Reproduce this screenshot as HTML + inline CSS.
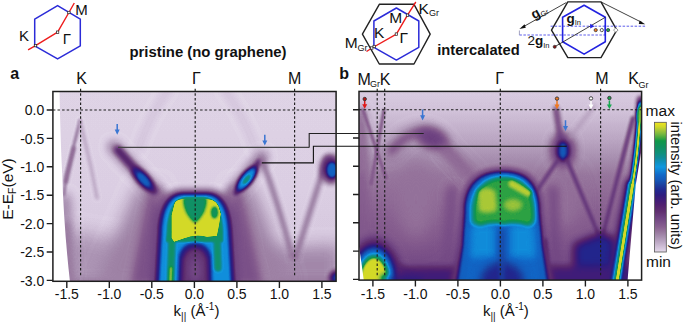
<!DOCTYPE html>
<html><head><meta charset="utf-8">
<style>
html,body{margin:0;padding:0;background:#fff;width:685px;height:323px;overflow:hidden}
svg{display:block;font-family:"Liberation Sans",sans-serif}
</style></head><body>
<svg width="685" height="323" viewBox="0 0 685 323">
<defs>
<linearGradient id="cbar" x1="0" y1="0" x2="0" y2="1"><stop offset="0.000" stop-color="#f0e420"/><stop offset="0.035" stop-color="#d0d828"/><stop offset="0.060" stop-color="#a8c838"/><stop offset="0.090" stop-color="#78b840"/><stop offset="0.120" stop-color="#40a840"/><stop offset="0.143" stop-color="#109848"/><stop offset="0.190" stop-color="#109060"/><stop offset="0.235" stop-color="#109078"/><stop offset="0.274" stop-color="#108c98"/><stop offset="0.310" stop-color="#1090c0"/><stop offset="0.344" stop-color="#1098e0"/><stop offset="0.375" stop-color="#1080d4"/><stop offset="0.405" stop-color="#1068c8"/><stop offset="0.444" stop-color="#1458b8"/><stop offset="0.483" stop-color="#1a40a0"/><stop offset="0.521" stop-color="#202890"/><stop offset="0.560" stop-color="#2c1c80"/><stop offset="0.600" stop-color="#401c78"/><stop offset="0.637" stop-color="#502070"/><stop offset="0.691" stop-color="#603070"/><stop offset="0.730" stop-color="#6c4080"/><stop offset="0.768" stop-color="#7a5088"/><stop offset="0.807" stop-color="#886090"/><stop offset="0.846" stop-color="#98789e"/><stop offset="0.884" stop-color="#a890b0"/><stop offset="0.923" stop-color="#bca8c4"/><stop offset="0.961" stop-color="#d0c0d8"/><stop offset="0.985" stop-color="#dccfe4"/><stop offset="1.000" stop-color="#e4dae8"/></linearGradient>
<filter id="cmap" x="0" y="0" width="1" height="1" color-interpolation-filters="sRGB">
<feComponentTransfer><feFuncR type="table" tableValues="0.894 0.878 0.861 0.846 0.830 0.815 0.799 0.782 0.766 0.750 0.734 0.718 0.702 0.686 0.670 0.655 0.642 0.629 0.616 0.603 0.590 0.578 0.565 0.552 0.540 0.528 0.517 0.506 0.495 0.484 0.472 0.461 0.450 0.438 0.427 0.417 0.407 0.398 0.388 0.379 0.370 0.360 0.351 0.342 0.333 0.324 0.315 0.302 0.288 0.275 0.262 0.248 0.232 0.217 0.202 0.186 0.171 0.162 0.152 0.143 0.133 0.125 0.120 0.115 0.110 0.105 0.100 0.096 0.091 0.086 0.081 0.077 0.074 0.071 0.068 0.065 0.063 0.063 0.063 0.063 0.063 0.063 0.063 0.063 0.063 0.063 0.063 0.063 0.063 0.063 0.063 0.063 0.063 0.063 0.063 0.063 0.063 0.063 0.063 0.063 0.063 0.063 0.063 0.063 0.063 0.063 0.063 0.063 0.063 0.073 0.138 0.202 0.265 0.322 0.380 0.438 0.492 0.541 0.591 0.640 0.689 0.739 0.788 0.828 0.856 0.885 0.913 0.941"/><feFuncG type="table" tableValues="0.855 0.832 0.810 0.791 0.771 0.752 0.733 0.713 0.694 0.674 0.655 0.636 0.617 0.598 0.579 0.559 0.540 0.520 0.501 0.481 0.462 0.443 0.424 0.405 0.386 0.370 0.358 0.345 0.332 0.320 0.307 0.294 0.281 0.268 0.255 0.242 0.229 0.217 0.204 0.191 0.181 0.172 0.163 0.154 0.145 0.136 0.126 0.122 0.119 0.116 0.112 0.110 0.110 0.110 0.110 0.110 0.111 0.120 0.130 0.139 0.149 0.160 0.180 0.199 0.219 0.238 0.257 0.276 0.295 0.314 0.333 0.350 0.363 0.375 0.388 0.401 0.419 0.443 0.468 0.493 0.517 0.541 0.565 0.589 0.591 0.584 0.577 0.569 0.563 0.560 0.557 0.553 0.550 0.552 0.555 0.558 0.561 0.564 0.565 0.565 0.565 0.565 0.565 0.565 0.571 0.576 0.581 0.586 0.592 0.600 0.621 0.642 0.663 0.679 0.696 0.712 0.729 0.745 0.762 0.778 0.797 0.816 0.836 0.852 0.862 0.873 0.884 0.894"/><feFuncB type="table" tableValues="0.910 0.902 0.893 0.877 0.862 0.846 0.830 0.814 0.798 0.781 0.765 0.749 0.733 0.718 0.702 0.686 0.672 0.657 0.642 0.628 0.615 0.604 0.593 0.581 0.570 0.562 0.555 0.549 0.543 0.536 0.530 0.523 0.517 0.510 0.504 0.493 0.480 0.468 0.455 0.442 0.439 0.439 0.439 0.439 0.439 0.439 0.439 0.445 0.452 0.459 0.465 0.472 0.478 0.484 0.490 0.497 0.503 0.516 0.529 0.541 0.554 0.567 0.580 0.593 0.606 0.619 0.634 0.653 0.672 0.691 0.710 0.726 0.739 0.752 0.764 0.777 0.790 0.802 0.814 0.827 0.839 0.851 0.863 0.875 0.858 0.829 0.800 0.771 0.740 0.706 0.672 0.637 0.603 0.576 0.551 0.525 0.500 0.475 0.457 0.440 0.424 0.407 0.391 0.374 0.359 0.343 0.327 0.311 0.296 0.281 0.270 0.259 0.251 0.251 0.251 0.251 0.247 0.239 0.231 0.223 0.207 0.188 0.168 0.154 0.147 0.140 0.133 0.125"/></feComponentTransfer>
</filter>
<filter id="b0_6" filterUnits="userSpaceOnUse" x="0" y="0" width="685" height="323" color-interpolation-filters="sRGB"><feGaussianBlur stdDeviation="0.6"/></filter>
<filter id="b0_7" filterUnits="userSpaceOnUse" x="0" y="0" width="685" height="323" color-interpolation-filters="sRGB"><feGaussianBlur stdDeviation="0.7"/></filter>
<filter id="b1" filterUnits="userSpaceOnUse" x="0" y="0" width="685" height="323" color-interpolation-filters="sRGB"><feGaussianBlur stdDeviation="1"/></filter>
<filter id="b1_1" filterUnits="userSpaceOnUse" x="0" y="0" width="685" height="323" color-interpolation-filters="sRGB"><feGaussianBlur stdDeviation="1.1"/></filter>
<filter id="b1_2" filterUnits="userSpaceOnUse" x="0" y="0" width="685" height="323" color-interpolation-filters="sRGB"><feGaussianBlur stdDeviation="1.2"/></filter>
<filter id="b1_3" filterUnits="userSpaceOnUse" x="0" y="0" width="685" height="323" color-interpolation-filters="sRGB"><feGaussianBlur stdDeviation="1.3"/></filter>
<filter id="b1_4" filterUnits="userSpaceOnUse" x="0" y="0" width="685" height="323" color-interpolation-filters="sRGB"><feGaussianBlur stdDeviation="1.4"/></filter>
<filter id="b1_5" filterUnits="userSpaceOnUse" x="0" y="0" width="685" height="323" color-interpolation-filters="sRGB"><feGaussianBlur stdDeviation="1.5"/></filter>
<filter id="b1_6" filterUnits="userSpaceOnUse" x="0" y="0" width="685" height="323" color-interpolation-filters="sRGB"><feGaussianBlur stdDeviation="1.6"/></filter>
<filter id="b1_7" filterUnits="userSpaceOnUse" x="0" y="0" width="685" height="323" color-interpolation-filters="sRGB"><feGaussianBlur stdDeviation="1.7"/></filter>
<filter id="b1_8" filterUnits="userSpaceOnUse" x="0" y="0" width="685" height="323" color-interpolation-filters="sRGB"><feGaussianBlur stdDeviation="1.8"/></filter>
<filter id="b2" filterUnits="userSpaceOnUse" x="0" y="0" width="685" height="323" color-interpolation-filters="sRGB"><feGaussianBlur stdDeviation="2"/></filter>
<filter id="b2_2" filterUnits="userSpaceOnUse" x="0" y="0" width="685" height="323" color-interpolation-filters="sRGB"><feGaussianBlur stdDeviation="2.2"/></filter>
<filter id="b2_5" filterUnits="userSpaceOnUse" x="0" y="0" width="685" height="323" color-interpolation-filters="sRGB"><feGaussianBlur stdDeviation="2.5"/></filter>
<filter id="b3" filterUnits="userSpaceOnUse" x="0" y="0" width="685" height="323" color-interpolation-filters="sRGB"><feGaussianBlur stdDeviation="3"/></filter>
<filter id="b3_5" filterUnits="userSpaceOnUse" x="0" y="0" width="685" height="323" color-interpolation-filters="sRGB"><feGaussianBlur stdDeviation="3.5"/></filter>
<filter id="b4" filterUnits="userSpaceOnUse" x="0" y="0" width="685" height="323" color-interpolation-filters="sRGB"><feGaussianBlur stdDeviation="4"/></filter>
<filter id="b4_5" filterUnits="userSpaceOnUse" x="0" y="0" width="685" height="323" color-interpolation-filters="sRGB"><feGaussianBlur stdDeviation="4.5"/></filter>
<filter id="b5" filterUnits="userSpaceOnUse" x="0" y="0" width="685" height="323" color-interpolation-filters="sRGB"><feGaussianBlur stdDeviation="5"/></filter>
<filter id="b8" filterUnits="userSpaceOnUse" x="0" y="0" width="685" height="323" color-interpolation-filters="sRGB"><feGaussianBlur stdDeviation="8"/></filter>
<filter id="b9" filterUnits="userSpaceOnUse" x="0" y="0" width="685" height="323" color-interpolation-filters="sRGB"><feGaussianBlur stdDeviation="9"/></filter>
<filter id="b10" filterUnits="userSpaceOnUse" x="0" y="0" width="685" height="323" color-interpolation-filters="sRGB"><feGaussianBlur stdDeviation="10"/></filter>
<clipPath id="ca"><rect x="52.9" y="91.5" width="283.2" height="189.8"/></clipPath><clipPath id="cb"><rect x="359" y="91.4" width="282.6" height="188.7"/></clipPath>
</defs>

<!-- PANEL A HEATMAP -->
<g id="pa" clip-path="url(#ca)"><g filter="url(#cmap)"><linearGradient id="pag" x1="0" y1="0" x2="0" y2="1"><stop offset="0" stop-color="#020202"/><stop offset="0.5" stop-color="#040404"/><stop offset="1" stop-color="#090909"/></linearGradient>
<rect x="40" y="80" width="320" height="220" fill="url(#pag)"/>
<path d="M60 230 L145 245 L145 290 L60 290Z" fill="#1c1c1c" filter="url(#b9)" opacity="1"/>
<path d="M240 250 L340 245 L340 290 L240 290Z" fill="#212121" filter="url(#b8)" opacity="1"/>
<path d="M62 285 L335 285" fill="none" stroke="#2b2b2b" stroke-width="12" stroke-linecap="round" filter="url(#b4)" opacity="1"/>
<path d="M64 200 L70 290" fill="none" stroke="#212121" stroke-width="14" stroke-linecap="round" filter="url(#b5)" opacity="1"/>
<path d="M66 225 L71 290" fill="none" stroke="#292929" stroke-width="6" stroke-linecap="round" filter="url(#b3)" opacity="1"/>
<path d="M138 186 L160 186 L160 285 L95 285Z" fill="#242424" filter="url(#b8)" opacity="1"/>
<path d="M232 186 L252 186 L292 285 L232 285Z" fill="#242424" filter="url(#b8)" opacity="1"/>
<path d="M150 190 L162 190 L160 285 L131 285Z" fill="#3b3b3b" filter="url(#b4)" opacity="1"/>
<path d="M228 190 L240 190 L262 285 L232 285Z" fill="#3b3b3b" filter="url(#b4)" opacity="1"/>
<path d="M168 90 Q150 115 138 150" fill="none" stroke="#090909" stroke-width="7" stroke-linecap="round" filter="url(#b3)" opacity="1"/>
<path d="M225 90 Q243 115 256 150" fill="none" stroke="#090909" stroke-width="7" stroke-linecap="round" filter="url(#b3)" opacity="1"/>
<path d="M80 121 L66 176 L64 195" fill="none" stroke="#262626" stroke-width="3.2" stroke-linecap="round" filter="url(#b1_3)" opacity="1"/>
<path d="M74 148 L66 182" fill="none" stroke="#303030" stroke-width="3.5" stroke-linecap="round" filter="url(#b1_6)" opacity="1"/>
<path d="M80 121 L91 167 L97 198" fill="none" stroke="#141414" stroke-width="3.5" stroke-linecap="round" filter="url(#b1_8)" opacity="1"/>
<path d="M114 147 L160 197" fill="none" stroke="#2e2e2e" stroke-width="12" stroke-linecap="round" filter="url(#b4)" opacity="1"/>
<path d="M118 150 L154 191" fill="none" stroke="#5c5c5c" stroke-width="7" stroke-linecap="round" filter="url(#b2)" opacity="1"/>
<ellipse cx="143" cy="179" rx="15" ry="6" fill="#787878" filter="url(#b2)" transform="rotate(48 143 179)"/>
<ellipse cx="143.5" cy="179.5" rx="9" ry="3.6" fill="#939393" filter="url(#b1_5)" transform="rotate(48 143.5 179.5)"/>
<path d="M262 157 L230 197" fill="none" stroke="#2e2e2e" stroke-width="12" stroke-linecap="round" filter="url(#b4)" opacity="1"/>
<path d="M259 162 L236 193" fill="none" stroke="#575757" stroke-width="5" stroke-linecap="round" filter="url(#b1_5)" opacity="1"/>
<ellipse cx="246.6" cy="179" rx="16" ry="6.5" fill="#7a7a7a" filter="url(#b1_5)" transform="rotate(-52 246.6 179)"/>
<ellipse cx="246.6" cy="179" rx="12" ry="4.2" fill="#a3a3a3" filter="url(#b1)" transform="rotate(-52 246.6 179)"/>
<ellipse cx="246.6" cy="179.5" rx="6" ry="2.2" fill="#c4c4c4" filter="url(#b1)" transform="rotate(-52 246.6 179.5)"/>
<path d="M262 160 Q279 205 292 256" fill="none" stroke="#2b2b2b" stroke-width="5" stroke-linecap="round" filter="url(#b2)" opacity="1"/>
<path d="M327 158 Q312 205 296 256" fill="none" stroke="#2b2b2b" stroke-width="5" stroke-linecap="round" filter="url(#b2)" opacity="1"/>
<path d="M292 257 L296 257" fill="none" stroke="#2b2b2b" stroke-width="5" stroke-linecap="round" filter="url(#b2_5)" opacity="1"/>
<ellipse cx="331" cy="169" rx="10" ry="14" fill="#5c5c5c" filter="url(#b3)" transform="rotate(0 331 169)"/>
<ellipse cx="332" cy="170" rx="5.5" ry="8" fill="#949494" filter="url(#b1_8)" transform="rotate(0 332 170)"/>
<ellipse cx="337" cy="278" rx="7" ry="7" fill="#858585" filter="url(#b2_5)" transform="rotate(0 337 278)"/>
<path d="M150 285 L154 232 C155 205 163 190 183 189.5 L207 189.5 C227 190 235 205 236 232 L240 285Z" fill="#454545" filter="url(#b3)" opacity="1"/>
<path d="M155 285 L158 232 C159 209 166 192.5 184 192.5 L206 192.5 C224 192.5 231 209 232 232 L235 285Z" fill="#707070" filter="url(#b1_3)" opacity="1"/>
<path d="M159 285 L162 232 C163 211 169 195 185 195 L205 195 C221 195 227 211 228 232 L231 285Z" fill="#a4a4a4" filter="url(#b1_1)" opacity="1"/>
<path d="M166 242 L167 230 C168 213 173 197.5 186 197.5 L204 197.5 C217 197.5 222 213 223 230 L223 242Z" fill="#cccccc" filter="url(#b1_1)" opacity="1"/>
<path d="M178 285 L179 256 Q182 243 195 243 Q208 243 211 256 L212 285Z" fill="#757575" filter="url(#b1_6)" opacity="1"/>
<path d="M182 285 L183 259 Q187 248 195 248 Q203 248 207 259 L208 285Z" fill="#4c4c4c" filter="url(#b2_2)" opacity="1"/>
<ellipse cx="195" cy="270" rx="6" ry="12" fill="#404040" filter="url(#b3)" transform="rotate(0 195 270)"/>
<path d="M172 238 L170.5 284" fill="none" stroke="#cccccc" stroke-width="7" stroke-linecap="round" filter="url(#b1_6)" opacity="1"/>
<path d="M217 236 L218 268" fill="none" stroke="#c9c9c9" stroke-width="7" stroke-linecap="round" filter="url(#b1_8)" opacity="1"/>
<path d="M171 268 L170.5 284" fill="none" stroke="#ededed" stroke-width="3.5" stroke-linecap="round" filter="url(#b1)" opacity="1"/>
<path d="M174 205 C175 200 179 199 184 199 L191 199 L192 204 L199 204 L200 199 L207 199 C213 199 217 202 219 207 L221 214 L219 226 L217 236 L207 237 Q195 234 184 238.5 L174 242 L171.5 238 L171.5 215 Z" fill="#f7f7f7" filter="url(#b1_0)" opacity="1"/>
<path d="M183.5 198 L206.5 198 Q207 213 195 223 Q183 213 183.5 198Z" fill="#cccccc" filter="url(#b1_4)" opacity="1"/>
<ellipse cx="214.5" cy="212.5" rx="3.5" ry="6" fill="#d1d1d1" filter="url(#b1_1)" transform="rotate(0 214.5 212.5)"/></g><path d="M50 90 L59.5 90 Q60.5 140 62 170 Q64 230 70 282 L50 282Z" fill="#fff" filter="url(#b0_6)"/></g>

<!-- PANEL B HEATMAP -->
<g id="pb" clip-path="url(#cb)"><g filter="url(#cmap)"><linearGradient id="pbg" x1="0" y1="0" x2="0" y2="1"><stop offset="0" stop-color="#040404"/><stop offset="0.12" stop-color="#090909"/><stop offset="0.25" stop-color="#141414"/><stop offset="0.35" stop-color="#1f1f1f"/><stop offset="0.42" stop-color="#282828"/><stop offset="0.6" stop-color="#323232"/><stop offset="0.8" stop-color="#3d3d3d"/><stop offset="1" stop-color="#4a4a4a"/></linearGradient>
<rect x="340" y="85" width="320" height="215" fill="url(#pbg)"/>
<ellipse cx="416" cy="200" rx="20" ry="42" fill="#2a2a2a" filter="url(#b10)" transform="rotate(0 416 200)"/>
<ellipse cx="564" cy="200" rx="16" ry="30" fill="#2b2b2b" filter="url(#b9)" transform="rotate(0 564 200)"/>
<path d="M361 112 L362 250" fill="none" stroke="#363636" stroke-width="8" stroke-linecap="round" filter="url(#b4)" opacity="1"/>
<path d="M363 110 L386 178" fill="none" stroke="#363636" stroke-width="3.2" stroke-linecap="round" filter="url(#b1_3)" opacity="1"/>
<path d="M384 110 L371 184" fill="none" stroke="#363636" stroke-width="3.2" stroke-linecap="round" filter="url(#b1_3)" opacity="1"/>
<path d="M361 125 L364 170" fill="none" stroke="#2b2b2b" stroke-width="6" stroke-linecap="round" filter="url(#b3)" opacity="1"/>
<path d="M390 153 Q410 128 428 132 Q440 136 448 151 L474 177" fill="none" stroke="#2b2b2b" stroke-width="14" stroke-linecap="round" filter="url(#b5)" opacity="1"/>
<path d="M392 150 Q410 130 427 133 Q438 137 446 150 L470 176" fill="none" stroke="#363636" stroke-width="6" stroke-linecap="round" filter="url(#b2_5)" opacity="1"/>
<ellipse cx="432" cy="139" rx="16" ry="10" fill="#454545" filter="url(#b4_5)" transform="rotate(20 432 139)"/>
<path d="M444 150 L470 178" fill="none" stroke="#2b2b2b" stroke-width="10" stroke-linecap="round" filter="url(#b4)" opacity="1"/>
<path d="M388 256 Q400 272 418 279" fill="none" stroke="#575757" stroke-width="5" stroke-linecap="round" filter="url(#b3)" opacity="1"/>
<path d="M452 190 L446 280" fill="none" stroke="#404040" stroke-width="8" stroke-linecap="round" filter="url(#b4)" opacity="1"/>
<path d="M553 190 L556 280" fill="none" stroke="#424242" stroke-width="8" stroke-linecap="round" filter="url(#b4)" opacity="1"/>
<path d="M556 109 L561 142" fill="none" stroke="#474747" stroke-width="5" stroke-linecap="round" filter="url(#b2)" opacity="1"/>
<ellipse cx="563" cy="150" rx="12" ry="17" fill="#4a4a4a" filter="url(#b4_5)" transform="rotate(0 563 150)"/>
<ellipse cx="563" cy="151" rx="5.5" ry="9.5" fill="#8f8f8f" filter="url(#b2_2)" transform="rotate(0 563 151)"/>
<path d="M558 160 L536 192" fill="none" stroke="#4c4c4c" stroke-width="3.5" stroke-linecap="round" filter="url(#b1_6)" opacity="1"/>
<path d="M567 160 L600 238" fill="none" stroke="#4f4f4f" stroke-width="3.5" stroke-linecap="round" filter="url(#b1_5)" opacity="1"/>
<path d="M633 118 L602 238" fill="none" stroke="#4f4f4f" stroke-width="3.5" stroke-linecap="round" filter="url(#b1_5)" opacity="1"/>
<path d="M594 106 L570 138" fill="none" stroke="#1c1c1c" stroke-width="3" stroke-linecap="round" filter="url(#b2)" opacity="1"/>
<path d="M574 244 L598 234 L606 234 L616 240 L614 290 L574 290Z" fill="#787878" filter="url(#b4)" opacity="1"/>
<path d="M576 272 L614 272 L614 290 L576 290Z" fill="#8a8a8a" filter="url(#b3)" opacity="1"/>
<path d="M544 240 L548 290" fill="none" stroke="#8c8c8c" stroke-width="3" stroke-linecap="round" filter="url(#b2)" opacity="1"/>
<path d="M380 268 L640 266 L640 290 L380 290Z" fill="#666666" filter="url(#b3_5)" opacity="1"/>
<path d="M641 100 Q638 155 632 185" fill="none" stroke="#666666" stroke-width="7" stroke-linecap="round" filter="url(#b2)" opacity="1"/>
<path d="M632 185 L615 285" fill="none" stroke="#6b6b6b" stroke-width="14" stroke-linecap="round" filter="url(#b3)" opacity="1"/>
<path d="M640.5 104 Q637.5 155 632 185" fill="none" stroke="#9e9e9e" stroke-width="5" stroke-linecap="round" filter="url(#b1_3)" opacity="1"/>
<path d="M632 185 L615.5 285" fill="none" stroke="#9e9e9e" stroke-width="9" stroke-linecap="round" filter="url(#b1_5)" opacity="1"/>
<path d="M640.5 106 Q637.5 155 632 185" fill="none" stroke="#cccccc" stroke-width="3.5" stroke-linecap="round" filter="url(#b1)" opacity="1"/>
<path d="M632 185 L616 285" fill="none" stroke="#cccccc" stroke-width="6" stroke-linecap="round" filter="url(#b1_2)" opacity="1"/>
<path d="M640.5 108 Q638 155 632.5 185" fill="none" stroke="#f7f7f7" stroke-width="2.2" stroke-linecap="round" filter="url(#b0_6)" opacity="1"/>
<path d="M632.5 185 L616.5 285" fill="none" stroke="#f7f7f7" stroke-width="3.2" stroke-linecap="round" filter="url(#b0_7)" opacity="1"/>
<ellipse cx="639.5" cy="115" rx="2.5" ry="8" fill="#e6e6e6" filter="url(#b1_5)" transform="rotate(0 639.5 115)"/>
<ellipse cx="374" cy="280" rx="27" ry="42" fill="#5c5c5c" filter="url(#b4)" transform="rotate(0 374 280)"/>
<ellipse cx="374" cy="280" rx="22" ry="35" fill="#858585" filter="url(#b2_5)" transform="rotate(0 374 280)"/>
<ellipse cx="374" cy="281" rx="18.5" ry="30" fill="#a8a8a8" filter="url(#b2)" transform="rotate(0 374 281)"/>
<ellipse cx="374" cy="282" rx="16" ry="27" fill="#cccccc" filter="url(#b1_5)" transform="rotate(0 374 282)"/>
<ellipse cx="374" cy="283" rx="13.5" ry="25" fill="#f7f7f7" filter="url(#b1_3)" transform="rotate(0 374 283)"/>
<path d="M385 279 L420 281" fill="none" stroke="#737373" stroke-width="5" stroke-linecap="round" filter="url(#b3)" opacity="1"/>
<path d="M450 285 L458 245 L461 212 C461 182 476 168 503 168 C530 168 543 182 543 212 L546 245 L554 285Z" fill="#4c4c4c" filter="url(#b2_5)" opacity="1"/>
<path d="M455 285 L462 245 L464 212 C464 185 478 171 503 171 C528 171 540 185 540 212 L543 245 L550 285Z" fill="#757575" filter="url(#b1_2)" opacity="1"/>
<path d="M458 285 L464 245 L466 212 C466 186.5 479.5 173 503 173 C526.5 173 538 186.5 538 212 L541 245 L547 285Z" fill="#939393" filter="url(#b1_2)" opacity="1"/>
<path d="M466 285 L469 228 L497 228 L497 285Z" fill="#969696" filter="url(#b3)" opacity="1"/>
<path d="M508 285 L508 228 L536 228 L540 285Z" fill="#969696" filter="url(#b3)" opacity="1"/>
<path d="M470 258 L471 224 L495 224 L495 258Z" fill="#a3a3a3" filter="url(#b3_5)" opacity="1"/>
<path d="M510 258 L510 224 L534 224 L536 258Z" fill="#a3a3a3" filter="url(#b3_5)" opacity="1"/>
<ellipse cx="502" cy="282" rx="22" ry="20" fill="#787878" filter="url(#b5)" transform="rotate(0 502 282)"/>
<path d="M502 232 L502 285" fill="none" stroke="#858585" stroke-width="5" stroke-linecap="round" filter="url(#b2_5)" opacity="1"/>
<path d="M470 212 C470 189 483 175.5 504 175.5 C525 175.5 536 189 536 212 L536 220 Q535 227 528 227 Q516 223 504 226 Q493 223 481 227 Q470 227 470 220Z" fill="#b8b8b8" filter="url(#b1_4)" opacity="1"/>
<path d="M474 212 C474 191 486 178.5 504 178.5 C522 178.5 533 191 533 212 L533 218 Q532.5 224 526 224 Q515 220 504 223 Q493 220 482 224 Q474 224 474 218Z" fill="#dedede" filter="url(#b1_7)" opacity="1"/>
<path d="M478 191 Q486 185 495 191 L497 210 Q488 215 479 211Z" fill="#f0f0f0" filter="url(#b2)" opacity="1"/>
<path d="M512 184 L528 193" fill="none" stroke="#f2f2f2" stroke-width="7" stroke-linecap="round" filter="url(#b1_8)" opacity="1"/>
<ellipse cx="513" cy="205" rx="9" ry="6" fill="#ededed" filter="url(#b2)" transform="rotate(0 513 205)"/></g><path d="M358 240 Q361.5 262 364 282 L358 282Z" fill="#fff" filter="url(#b0_6)"/><path d="M642 92 L641.5 150 L635.7 185 L628 275 L627.5 282 L645 282 L645 92Z" fill="#fff" filter="url(#b0_6)"/></g>

<!-- frames -->
<g fill="none" stroke="#1e1e1e" stroke-width="1.5">
<rect x="52.9" y="91.5" width="283.2" height="189.8"/>
<rect x="359" y="91.4" width="282.6" height="188.7"/>
</g>
<!-- ticks -->
<g stroke="#1e1e1e" stroke-width="1.4">
<path d="M46.7 110H52.9M46.7 138.4H52.9M46.7 166.8H52.9M46.7 195.2H52.9M46.7 223.6H52.9M46.7 252H52.9M46.7 280.4H52.9"/>
<path d="M66.8 281.3V288M109.3 281.3V288M151.8 281.3V288M194.4 281.3V288M236.9 281.3V288M279.4 281.3V288M321.9 281.3V288"/>
<path d="M353 109.7H359M353 138H359M353 166.2H359M353 194.5H359M353 222.8H359M353 251.1H359M353 279.4H359"/>
<path d="M372.9 280.1V286.6M415.4 280.1V286.6M457.9 280.1V286.6M500.4 280.1V286.6M542.9 280.1V286.6M585.4 280.1V286.6M627.9 280.1V286.6"/>
</g>
<!-- dashed lines -->
<g stroke="#1e1e1e" stroke-width="1.15" stroke-dasharray="2.5 2.1" fill="none">
<path d="M52.9 110H336.1"/>
<path d="M80.6 88.7V277M195.2 88.7V277M294.6 88.7V277"/>
<path d="M359 109.7H641.6"/>
<path d="M377.2 88.7V277M384.7 88.7V277M500.3 88.7V277M600.6 88.7V277"/>
</g>

<!-- tick labels -->
<g font-size="14" fill="#111" text-anchor="end">
<text x="44.3" y="115.1">0.0</text>
<text x="44.3" y="143.5">-0.5</text>
<text x="44.3" y="171.9">-1.0</text>
<text x="44.3" y="200.3">-1.5</text>
<text x="44.3" y="228.7">-2.0</text>
<text x="44.3" y="257.1">-2.5</text>
<text x="44.3" y="285.5">-3.0</text>
</g>
<g font-size="14" fill="#111" text-anchor="middle">
<text x="66.8" y="298.8">-1.5</text>
<text x="109.3" y="298.8">-1.0</text>
<text x="151.8" y="298.8">-0.5</text>
<text x="194.4" y="298.8">0.0</text>
<text x="236.9" y="298.8">0.5</text>
<text x="279.4" y="298.8">1.0</text>
<text x="321.9" y="298.8">1.5</text>
<text x="372.9" y="298.8">-1.5</text>
<text x="415.4" y="298.8">-1.0</text>
<text x="457.9" y="298.8">-0.5</text>
<text x="500.4" y="298.8">0.0</text>
<text x="542.9" y="298.8">0.5</text>
<text x="585.4" y="298.8">1.0</text>
<text x="627.9" y="298.8">1.5</text>
</g>
<!-- axis titles -->
<g font-size="15" fill="#111">
<text x="173.6" y="315.7">k<tspan font-size="10" dy="3.8">||</tspan><tspan dy="-3.8"> (Å</tspan><tspan font-size="10" dy="-5.8">-1</tspan><tspan dy="5.8">)</tspan></text>
<text x="483" y="315.7">k<tspan font-size="10" dy="3.8">||</tspan><tspan dy="-3.8"> (Å</tspan><tspan font-size="10" dy="-5.8">-1</tspan><tspan dy="5.8">)</tspan></text>
</g>
<text font-size="15.5" fill="#111" transform="translate(13.2,219.8) rotate(-90)">E-E<tspan font-size="10.5" dy="3.2">F</tspan><tspan dy="-3.2">(eV)</tspan></text>

<!-- symmetry labels -->
<g font-size="16" fill="#111" text-anchor="middle">
<text x="81.7" y="83.9">K</text>
<text x="196.3" y="83.6">Γ</text>
<text x="294.6" y="84.2">M</text>
<text x="364.2" y="84.6">M</text>
<text x="385.2" y="84.6">K</text>
<text x="499.6" y="83.6">Γ</text>
<text x="601.9" y="83.6">M</text>
<text x="633.7" y="83.6">K</text>
</g>
<g font-size="9" fill="#111">
<text x="370" y="87.3">Gr</text>
<text x="638.6" y="87.5">Gr</text>
</g>

<!-- panel letters, headings -->
<g font-weight="bold" fill="#111">
<text x="10.3" y="79.1" font-size="16">a</text>
<text x="339.3" y="79.2" font-size="16">b</text>
<text x="129.4" y="56.5" font-size="14.9">pristine (no graphene)</text>
<text x="437.2" y="54.9" font-size="14.7">intercalated</text>
</g>


<!-- connecting lines -->
<g fill="none" stroke-width="1.1">
<path d="M118 147.4H309.2" stroke="#444"/><path d="M309.2 147.4V133.5H423.7" stroke="#222"/>
<path d="M261.8 162.9H313.4V146.3H566.7" stroke="#111"/>
</g>
<!-- arrows in panels -->
<defs>
<g id="arr"><path d="M-0.75 -5.6H0.75V0H2.5L0 5.2L-2.5 0H-0.75Z"/></g>
<g id="arr2"><path d="M-0.75 -4H0.75V0H2.5L0 4.6L-2.5 0H-0.75Z"/></g>
<filter id="cmap" x="0" y="0" width="1" height="1" color-interpolation-filters="sRGB">
<feComponentTransfer><feFuncR type="table" tableValues="0.894 0.878 0.861 0.846 0.830 0.815 0.799 0.782 0.766 0.750 0.734 0.718 0.702 0.686 0.670 0.655 0.642 0.629 0.616 0.603 0.590 0.578 0.565 0.552 0.540 0.528 0.517 0.506 0.495 0.484 0.472 0.461 0.450 0.438 0.427 0.417 0.407 0.398 0.388 0.379 0.370 0.360 0.351 0.342 0.333 0.324 0.315 0.302 0.288 0.275 0.262 0.248 0.232 0.217 0.202 0.186 0.171 0.162 0.152 0.143 0.133 0.125 0.120 0.115 0.110 0.105 0.100 0.096 0.091 0.086 0.081 0.077 0.074 0.071 0.068 0.065 0.063 0.063 0.063 0.063 0.063 0.063 0.063 0.063 0.063 0.063 0.063 0.063 0.063 0.063 0.063 0.063 0.063 0.063 0.063 0.063 0.063 0.063 0.063 0.063 0.063 0.063 0.063 0.063 0.063 0.063 0.063 0.063 0.063 0.073 0.138 0.202 0.265 0.322 0.380 0.438 0.492 0.541 0.591 0.640 0.689 0.739 0.788 0.828 0.856 0.885 0.913 0.941"/><feFuncG type="table" tableValues="0.855 0.832 0.810 0.791 0.771 0.752 0.733 0.713 0.694 0.674 0.655 0.636 0.617 0.598 0.579 0.559 0.540 0.520 0.501 0.481 0.462 0.443 0.424 0.405 0.386 0.370 0.358 0.345 0.332 0.320 0.307 0.294 0.281 0.268 0.255 0.242 0.229 0.217 0.204 0.191 0.181 0.172 0.163 0.154 0.145 0.136 0.126 0.122 0.119 0.116 0.112 0.110 0.110 0.110 0.110 0.110 0.111 0.120 0.130 0.139 0.149 0.160 0.180 0.199 0.219 0.238 0.257 0.276 0.295 0.314 0.333 0.350 0.363 0.375 0.388 0.401 0.419 0.443 0.468 0.493 0.517 0.541 0.565 0.589 0.591 0.584 0.577 0.569 0.563 0.560 0.557 0.553 0.550 0.552 0.555 0.558 0.561 0.564 0.565 0.565 0.565 0.565 0.565 0.565 0.571 0.576 0.581 0.586 0.592 0.600 0.621 0.642 0.663 0.679 0.696 0.712 0.729 0.745 0.762 0.778 0.797 0.816 0.836 0.852 0.862 0.873 0.884 0.894"/><feFuncB type="table" tableValues="0.910 0.902 0.893 0.877 0.862 0.846 0.830 0.814 0.798 0.781 0.765 0.749 0.733 0.718 0.702 0.686 0.672 0.657 0.642 0.628 0.615 0.604 0.593 0.581 0.570 0.562 0.555 0.549 0.543 0.536 0.530 0.523 0.517 0.510 0.504 0.493 0.480 0.468 0.455 0.442 0.439 0.439 0.439 0.439 0.439 0.439 0.439 0.445 0.452 0.459 0.465 0.472 0.478 0.484 0.490 0.497 0.503 0.516 0.529 0.541 0.554 0.567 0.580 0.593 0.606 0.619 0.634 0.653 0.672 0.691 0.710 0.726 0.739 0.752 0.764 0.777 0.790 0.802 0.814 0.827 0.839 0.851 0.863 0.875 0.858 0.829 0.800 0.771 0.740 0.706 0.672 0.637 0.603 0.576 0.551 0.525 0.500 0.475 0.457 0.440 0.424 0.407 0.391 0.374 0.359 0.343 0.327 0.311 0.296 0.281 0.270 0.259 0.251 0.251 0.251 0.251 0.247 0.239 0.231 0.223 0.207 0.188 0.168 0.154 0.147 0.140 0.133 0.125"/></feComponentTransfer>
</filter>
<filter id="b0_6" filterUnits="userSpaceOnUse" x="0" y="0" width="685" height="323" color-interpolation-filters="sRGB"><feGaussianBlur stdDeviation="0.6"/></filter>
<filter id="b0_7" filterUnits="userSpaceOnUse" x="0" y="0" width="685" height="323" color-interpolation-filters="sRGB"><feGaussianBlur stdDeviation="0.7"/></filter>
<filter id="b1" filterUnits="userSpaceOnUse" x="0" y="0" width="685" height="323" color-interpolation-filters="sRGB"><feGaussianBlur stdDeviation="1"/></filter>
<filter id="b1_1" filterUnits="userSpaceOnUse" x="0" y="0" width="685" height="323" color-interpolation-filters="sRGB"><feGaussianBlur stdDeviation="1.1"/></filter>
<filter id="b1_2" filterUnits="userSpaceOnUse" x="0" y="0" width="685" height="323" color-interpolation-filters="sRGB"><feGaussianBlur stdDeviation="1.2"/></filter>
<filter id="b1_3" filterUnits="userSpaceOnUse" x="0" y="0" width="685" height="323" color-interpolation-filters="sRGB"><feGaussianBlur stdDeviation="1.3"/></filter>
<filter id="b1_4" filterUnits="userSpaceOnUse" x="0" y="0" width="685" height="323" color-interpolation-filters="sRGB"><feGaussianBlur stdDeviation="1.4"/></filter>
<filter id="b1_5" filterUnits="userSpaceOnUse" x="0" y="0" width="685" height="323" color-interpolation-filters="sRGB"><feGaussianBlur stdDeviation="1.5"/></filter>
<filter id="b1_6" filterUnits="userSpaceOnUse" x="0" y="0" width="685" height="323" color-interpolation-filters="sRGB"><feGaussianBlur stdDeviation="1.6"/></filter>
<filter id="b1_7" filterUnits="userSpaceOnUse" x="0" y="0" width="685" height="323" color-interpolation-filters="sRGB"><feGaussianBlur stdDeviation="1.7"/></filter>
<filter id="b1_8" filterUnits="userSpaceOnUse" x="0" y="0" width="685" height="323" color-interpolation-filters="sRGB"><feGaussianBlur stdDeviation="1.8"/></filter>
<filter id="b2" filterUnits="userSpaceOnUse" x="0" y="0" width="685" height="323" color-interpolation-filters="sRGB"><feGaussianBlur stdDeviation="2"/></filter>
<filter id="b2_2" filterUnits="userSpaceOnUse" x="0" y="0" width="685" height="323" color-interpolation-filters="sRGB"><feGaussianBlur stdDeviation="2.2"/></filter>
<filter id="b2_5" filterUnits="userSpaceOnUse" x="0" y="0" width="685" height="323" color-interpolation-filters="sRGB"><feGaussianBlur stdDeviation="2.5"/></filter>
<filter id="b3" filterUnits="userSpaceOnUse" x="0" y="0" width="685" height="323" color-interpolation-filters="sRGB"><feGaussianBlur stdDeviation="3"/></filter>
<filter id="b3_5" filterUnits="userSpaceOnUse" x="0" y="0" width="685" height="323" color-interpolation-filters="sRGB"><feGaussianBlur stdDeviation="3.5"/></filter>
<filter id="b4" filterUnits="userSpaceOnUse" x="0" y="0" width="685" height="323" color-interpolation-filters="sRGB"><feGaussianBlur stdDeviation="4"/></filter>
<filter id="b4_5" filterUnits="userSpaceOnUse" x="0" y="0" width="685" height="323" color-interpolation-filters="sRGB"><feGaussianBlur stdDeviation="4.5"/></filter>
<filter id="b5" filterUnits="userSpaceOnUse" x="0" y="0" width="685" height="323" color-interpolation-filters="sRGB"><feGaussianBlur stdDeviation="5"/></filter>
<filter id="b8" filterUnits="userSpaceOnUse" x="0" y="0" width="685" height="323" color-interpolation-filters="sRGB"><feGaussianBlur stdDeviation="8"/></filter>
<filter id="b9" filterUnits="userSpaceOnUse" x="0" y="0" width="685" height="323" color-interpolation-filters="sRGB"><feGaussianBlur stdDeviation="9"/></filter>
<filter id="b10" filterUnits="userSpaceOnUse" x="0" y="0" width="685" height="323" color-interpolation-filters="sRGB"><feGaussianBlur stdDeviation="10"/></filter>
<clipPath id="ca"><rect x="52.9" y="91.5" width="283.2" height="189.8"/></clipPath><clipPath id="cb"><rect x="359" y="91.4" width="282.6" height="188.7"/></clipPath>
</defs>
<g fill="#3a76d2">
<use href="#arr" x="117.2" y="129.5"/>
<use href="#arr" x="264.8" y="140.4"/>
<use href="#arr" x="422.6" y="115.2"/>
<use href="#arr" x="565.5" y="125.9"/>
</g>
<use href="#arr2" x="364.7" y="104.2" fill="#e01818"/>
<use href="#arr2" x="557" y="104.6" fill="#f07820"/>
<use href="#arr2" x="591" y="104.6" fill="#fff"/>
<use href="#arr2" x="609.4" y="104.4" fill="#18a850"/>
<g stroke="#333" stroke-width="0.9">
<circle cx="364.7" cy="99" r="1.7" fill="#c01010"/>
<circle cx="557" cy="98.6" r="1.7" fill="#f07820"/>
<circle cx="591" cy="98.4" r="1.7" fill="#fff"/>
<circle cx="609.4" cy="98" r="1.7" fill="#18a850"/>
</g>

<!-- hexagon 1 -->
<g fill="none" stroke-linejoin="round">
<path d="M57.6 5.6L80.3 19.1V45.8L57.6 58.9L34.7 45.8V19.1Z" stroke="#2b2bd8" stroke-width="1.5"/>
<path d="M28.1 49.8L35.5 45.6L57.6 32.2L68.9 12.5L74.3 3" stroke="#ee1c1c" stroke-width="1.4"/>
</g>
<g fill="#fff" stroke="#222" stroke-width="0.7">
<rect x="34.3" y="44.4" width="2.4" height="2.4"/>
<rect x="56.4" y="31" width="2.4" height="2.4"/>
<rect x="67.7" y="11.3" width="2.4" height="2.4"/>
</g>
<g font-size="15" fill="#111">
<text x="75.3" y="15.3">M</text>
<text x="18.9" y="41">K</text>
<text x="62.8" y="44.3">Γ</text>
</g>

<!-- hexagon 2 -->
<g fill="none" stroke-linejoin="round">
<path d="M379.3 4.3H414L430.2 34.1L414 64H379.3L362.4 34.1Z" stroke="#222" stroke-width="1.4"/>
<path d="M396.4 8L418.8 21V47.3L396.4 60.1L373.9 47.3V21Z" stroke="#2b2bd8" stroke-width="1.5"/>
<path d="M366.5 51.5L372 48L396.4 34.1L407.5 15.2L414 4.8L415.8 2" stroke="#ee1c1c" stroke-width="1.4"/>
</g>
<g fill="#fff" stroke="#222" stroke-width="0.7">
<rect x="370.6" y="46.8" width="2.4" height="2.4"/>
<rect x="373" y="45.3" width="2.4" height="2.4"/>
<rect x="395.2" y="32.9" width="2.4" height="2.4"/>
<rect x="406.3" y="14" width="2.4" height="2.4"/>
</g>
<g font-size="15.5" fill="#111">
<text x="418.6" y="13.6">K</text>
<text x="389.2" y="23">M</text>
<text x="374" y="38.2">K</text>
<text x="399.5" y="42.6">Γ</text>
<text x="344.8" y="48.4">M</text>
</g>
<g font-size="9" fill="#111">
<text x="429" y="15.6">Gr</text>
<text x="357.4" y="51">Gr</text>
</g>

<!-- hexagon 3 (reciprocal vectors) -->
<g fill="none" stroke-linejoin="round">
<path d="M567.8 1.9H601L616.8 30.1L601 57.6H567.8L551.5 30.1Z" stroke="#222" stroke-width="1.4"/>
<path d="M584.1 5.2L605.3 17.3V41.8L584.1 54.1L562.6 41.8V17.3Z" stroke="#2222e0" stroke-width="1.6"/>
<path d="M550.6 26.2H646" stroke="#4a4ae8" stroke-width="0.9" stroke-dasharray="2.5 1.5"/>
<path d="M519.4 35H605" stroke="#4a4ae8" stroke-width="0.9" stroke-dasharray="2.5 1.5"/>
<path d="M519.4 30.5V35" stroke="#8a8ab0" stroke-width="0.8"/>
<path d="M554.6 46.8L605.3 17.3" stroke="#111" stroke-width="0.8"/>
<path d="M566.2 2.6L522 27.5" stroke="#111" stroke-width="0.8"/>
<path d="M601.5 2.2L642 22.5" stroke="#111" stroke-width="0.8"/>
<path d="M605.3 25V35.5" stroke="#2222e0" stroke-width="1.3"/>
</g>
<path d="M519.4 29L524.6 24.3L525.8 27.8Z" fill="#111"/>
<path d="M645.2 24.2L639.6 20.6L638.8 24.1Z" fill="#111"/>
<path d="M594.5 26.2L590.2 23.8V28.6Z" fill="#2222e0"/>
<g stroke="#333" stroke-width="0.8">
<circle cx="595.7" cy="30.1" r="1.6" fill="#f07820"/>
<circle cx="601.8" cy="30.1" r="1.6" fill="#fff"/>
<circle cx="608.1" cy="30.1" r="1.6" fill="#18a850"/>
<circle cx="554.7" cy="46.8" r="1.5" fill="#8a1010"/>
</g>
<path d="M615.8 27.8L618 30.1L615.8 32.4L613.6 30.1Z" fill="#fff" stroke="#555" stroke-width="0.6"/>
<g fill="#111">
<text x="566.4" y="22.6" font-size="13.5" font-weight="bold">g<tspan font-size="7.5" font-weight="normal" dy="2">In</tspan></text>
<text x="527.4" y="45.4" font-size="13.5">2<tspan font-weight="bold">g</tspan><tspan font-size="7.5" dy="2.2">In</tspan></text>
<text transform="translate(534,19.5) rotate(-29)" font-size="13.5" font-weight="bold">g<tspan font-size="7.5" font-weight="normal" dy="2">Gr</tspan></text>
</g>

<!-- colorbar -->
<rect x="654.5" y="122.3" width="11.8" height="129.7" fill="url(#cbar)" stroke="#555" stroke-width="0.8"/>
<text x="645.6" y="116.2" font-size="15.5" fill="#111">max</text>
<text x="646" y="267.2" font-size="15.5" fill="#111">min</text>
<text font-size="14.7" fill="#111" transform="translate(671,121.5) rotate(90)">intensity (arb. units)</text>

</svg>
</body></html>
